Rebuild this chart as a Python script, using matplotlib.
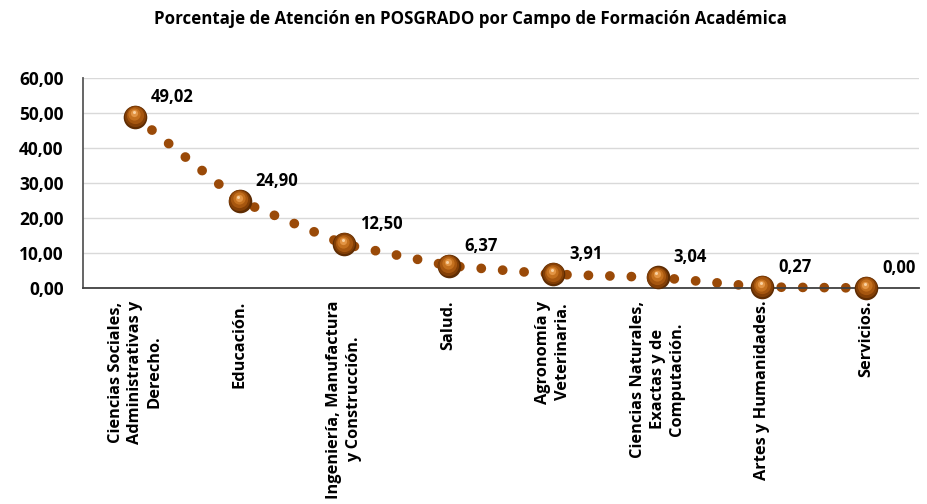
import matplotlib.pyplot as plt
from matplotlib.transforms import offset_copy

# data
campos = [
    "Ciencias Sociales,\nAdministrativas y\nDerecho.",
    "Educación.",
    "Ingeniería, Manufactura\ny Construcción.",
    "Salud.",
    "Agronomía y\nVeterinaria.",
    "Ciencias Naturales,\nExactas y de\nComputación.",
    "Artes y Humanidades.",
    "Servicios.",
]
porcentaje = [49.02, 24.90, 12.50, 6.37, 3.91, 3.04, 0.27, 0.00]
yticks = [0, 10, 20, 30, 40, 50, 60]

plt.rcParams['font.family'] = ['Open Sans', 'DejaVu Sans']
plt.rcParams['font.weight'] = 'bold'

fig = plt.figure(figsize=(9.28, 5.04), dpi=100)
ax = fig.add_axes([0.0894, 0.4286, 0.9006, 0.4164])

x = list(range(len(campos)))

# dotted connecting line (round dots)
ax.plot(x, porcentaje, color='#9a4a08', lw=7.0, linestyle=(0, (0.01, 2.2)),
        dash_capstyle='round', zorder=2, clip_on=False)

# shaded "spheres" at each value
layers = [
    (17.0, '#5e2c03', 0.0),
    (15.2, '#833f06', 0.6),
    (12.4, '#a6560f', 1.2),
    (8.8, '#c4701e', 1.8),
    (5.2, '#e29444', 2.4),
    (2.2, '#f9d0a0', 3.0),
]
for size, col, dy in layers:
    tr = offset_copy(ax.transData, fig=fig, x=-dy * 0.3, y=dy, units='points')
    ax.plot(x, porcentaje, 'o', ms=size, color=col, mec='none',
            transform=tr, zorder=3, clip_on=False)

for xi, v in zip(x, porcentaje):
    ax.annotate(f"{v:.2f}".replace('.', ','), (xi, v), xytext=(16, 11),
                textcoords='offset pixels', ha='left', va='bottom',
                fontsize=12, fontweight='bold', color='black')

ax.set_xlim(-0.5, len(campos) - 0.5)
ax.set_ylim(0, 60)
ax.set_yticks(yticks)
ax.set_yticklabels([f"{t:.2f}".replace('.', ',') for t in yticks],
                   fontsize=12.5, fontweight='bold')
ax.set_xticks(x)
ax.set_xticklabels(campos, rotation=90, ha='center', va='top',
                   multialignment='center', fontsize=11.8, fontweight='bold',
                   linespacing=1.3)
ax.tick_params(axis='both', length=0)
ax.tick_params(axis='x', pad=9)
ax.tick_params(axis='y', pad=14)

ax.grid(axis='y', color='#d9d9d9', lw=1)
ax.set_axisbelow(True)
for s in ['top', 'right']:
    ax.spines[s].set_visible(False)
ax.spines['left'].set_color('#595959')
ax.spines['bottom'].set_color('#404040')
ax.spines['left'].set_linewidth(1.3)
ax.spines['bottom'].set_linewidth(1.3)

fig.text(0.507, 0.962, "Porcentaje de Atención en POSGRADO por Campo de Formación Académica",
         ha='center', va='center', fontsize=12.2, fontweight='bold')

fig.savefig('out.png', dpi=100)
